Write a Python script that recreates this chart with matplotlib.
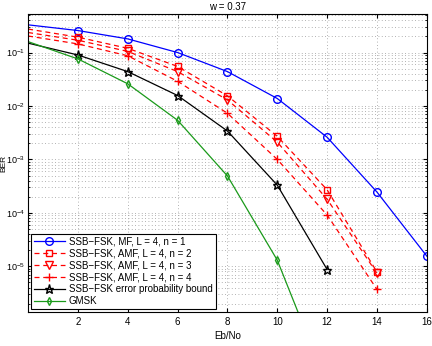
import matplotlib
matplotlib.use("Agg")
import matplotlib.pyplot as plt
import numpy as np

# Eb/No points (dB)
ebno = [0, 2, 4, 6, 8, 10, 12, 14, 16]
ebno_short = [0, 2, 4, 6, 8, 10, 12, 14]
ebno_bound = [0, 2, 4, 6, 8, 10, 12]
ebno_gmsk = [0, 2, 4, 6, 8, 10, 12]

# BER values
ber_mf_n1 = [0.33, 0.258, 0.18, 0.10, 0.044, 0.0138, 2.6e-3, 2.45e-4, 1.55e-5]
ber_amf_n2 = [0.275, 0.194, 0.12, 0.055, 0.0155, 2.7e-3, 2.7e-4, 7.8e-6]
ber_amf_n3 = [0.237, 0.17, 0.105, 0.044, 0.013, 2.1e-3, 1.8e-4, 7.4e-6]
ber_amf_n4 = [0.204, 0.145, 0.087, 0.029, 7.3e-3, 1.0e-3, 9.1e-5, 3.7e-6]
ber_bound = [0.15, 0.09, 0.044, 0.0157, 3.4e-3, 3.3e-4, 8.7e-6]
ber_gmsk = [0.16, 0.076, 0.026, 5.4e-3, 4.9e-4, 1.3e-5, 6e-8]

labels = ['SSB\u2212FSK, MF, L = 4, n = 1',
          'SSB\u2212FSK, AMF, L = 4, n = 2',
          'SSB\u2212FSK, AMF, L = 4, n = 3',
          'SSB\u2212FSK, AMF, L = 4, n = 4',
          'SSB\u2212FSK error probability bound',
          'GMSK']

plt.rcParams['font.family'] = ['Liberation Sans', 'DejaVu Sans']
plt.rcParams['font.size'] = 7
plt.rcParams['mathtext.fontset'] = 'custom'
plt.rcParams['mathtext.rm'] = 'Liberation Sans'

fig = plt.figure(figsize=(4.32, 3.46), dpi=100)
ax = fig.add_axes([0.065, 0.098, 0.923, 0.862])

me = slice(1, None)
ax.plot(ebno, ber_mf_n1, color='blue', marker='o', mfc='none', ms=5.5, lw=0.9,
        markevery=me, label=labels[0])
ax.plot(ebno_short, ber_amf_n2, color='red', ls=(0, (4, 3)), marker='s', mfc='none', ms=4.5, lw=0.9,
        markevery=me, label=labels[1])
ax.plot(ebno_short, ber_amf_n3, color='red', ls=(0, (4, 3)), marker='v', mfc='none', ms=5.5, lw=0.9,
        markevery=me, label=labels[2])
ax.plot(ebno_short, ber_amf_n4, color='red', ls=(0, (4, 3)), marker='+', ms=5.5, lw=0.9,
        markevery=me, label=labels[3])
ax.plot(ebno_bound, ber_bound, color='black', marker='*', mfc='none', ms=6.5, lw=0.9,
        markevery=me, label=labels[4])
ax.plot(ebno_gmsk, ber_gmsk, color='#1a9a1a', marker='d', mfc='none', ms=4, lw=0.9,
        markevery=slice(1, 6), label=labels[5])

ax.set_yscale('log')
ax.set_xlim(0, 16)
ax.set_ylim(1.39e-6, 0.53)
ax.set_xticks([2, 4, 6, 8, 10, 12, 14, 16])
ax.set_yticks([1e-5, 1e-4, 1e-3, 1e-2, 1e-1])

ax.grid(True, which='major', axis='x', ls=(0, (1, 3)), color='#999999', lw=0.6)
ax.grid(True, which='both', axis='y', ls=(0, (1, 3)), color='#999999', lw=0.6)
ax.tick_params(which='both', direction='in', top=True, right=True, labelsize=7)
ax.tick_params(axis='y', which='major', pad=2, labelsize=6.5)
ax.tick_params(which='major', length=3)
ax.tick_params(which='minor', length=1.5)
for s in ax.spines.values():
    s.set_linewidth(0.8)

ax.set_title('w = 0.37', fontsize=7, pad=3)
ax.set_xlabel('Eb/No', fontsize=7, labelpad=3)
ax.set_ylabel('BER', fontsize=6)
ax.yaxis.set_label_coords(-0.051, 0.5)

leg = ax.legend(loc='lower left', fontsize=7, fancybox=False, edgecolor='black',
                framealpha=1, borderaxespad=0.3, handlelength=3.2, labelspacing=0.2,
                borderpad=0.3, handletextpad=0.4)
leg.get_frame().set_linewidth(0.8)

fig.savefig('out.png', dpi=100)
